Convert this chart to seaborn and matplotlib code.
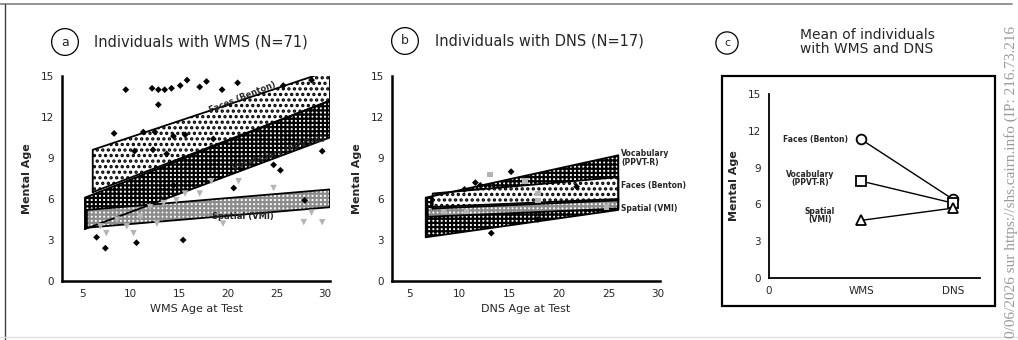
import numpy as np
import pandas as pd
import matplotlib
matplotlib.use('Agg')
import matplotlib.pyplot as plt
import seaborn as sns

sns.set_style('white')
plt.rcParams['font.family'] = ['DejaVu Sans']
plt.rcParams['hatch.linewidth'] = 1.6

MENTAL_AGE = 'Mental Age'

# panel a: individuals with WMS, scatter (black = faces/vocabulary, gray = spatial)
wms_black_age = [9.5, 12.2, 12.85, 13.5, 14.2, 15.1, 15.8, 17.1, 17.8, 19.4, 21.0, 25.7, 28.6,
                 12.85, 8.3, 11.3, 12.5, 14.4, 15.6, 10.4, 12.3, 13.7, 18.5, 24.7, 29.7,
                 20.6, 14.4, 6.5, 7.4, 10.6, 15.4, 27.9, 25.4]
wms_black_ma = [14.0, 14.1, 14.0, 14.0, 14.1, 14.3, 14.7, 14.2, 14.6, 14.0, 14.5, 14.3, 14.7,
                12.9, 10.8, 10.9, 10.9, 10.6, 10.7, 9.5, 9.6, 9.3, 10.4, 8.5, 9.5,
                6.8, 7.0, 3.2, 2.4, 2.8, 3.0, 5.9, 8.1]
wms_gray_age = [18.3, 21.1, 24.7, 15.6, 17.1, 14.7, 19.5, 28.6, 29.7, 27.8, 7.5, 10.3, 12.7,
                8.6, 11.0, 12.0, 13.4, 6.9, 9.6]
wms_gray_ma = [7.3, 7.3, 6.8, 6.4, 6.4, 5.9, 4.2, 5.0, 4.3, 4.3, 3.5, 3.5, 4.2,
               4.5, 4.7, 5.4, 5.7, 4.0, 4.0]

# panel a: confidence bands (x ends, lower, upper)
wms_faces_x, wms_faces_lo, wms_faces_hi = [6.1, 30.5], [6.5, 13.2], [9.6, 15.4]
wms_vocab_x, wms_vocab_lo, wms_vocab_hi = [5.3, 30.5], [3.8, 10.5], [6.1, 13.2]
wms_spat_x, wms_spat_lo, wms_spat_hi = [5.5, 30.5], [3.9, 5.4], [5.2, 6.7]

# panel b: individuals with DNS
dns_black_age = [15.2, 12.1, 11.6, 10.5, 17.9, 21.8, 13.2]
dns_black_ma = [8.0, 7.0, 7.2, 6.7, 4.5, 6.9, 3.5]
dns_gray_age = [13.1, 16.6, 17.9, 17.9, 8.4, 10.7, 24.8]
dns_gray_ma = [7.8, 7.3, 6.4, 5.9, 5.1, 5.1, 5.4]

dns_vocab_x, dns_vocab_lo, dns_vocab_hi = [6.6, 26.0], [3.2, 5.2], [6.1, 9.2]
dns_faces_x, dns_faces_lo, dns_faces_hi = [7.3, 26.0], [5.3, 5.9], [6.4, 7.6]
dns_spat_x, dns_spat_lo, dns_spat_hi = [6.8, 26.0], [4.7, 5.3], [5.4, 6.0]

# panel c: means
groups = ['WMS', 'DNS']
faces_mean = [11.3, 6.4]
vocab_mean = [7.9, 6.1]
spatial_mean = [4.7, 5.7]

W, H = 1018, 340
fig = plt.figure(figsize=(W / 100, H / 100), dpi=100)


def axes_px(x0, y0, x1, y1):
    return fig.add_axes([x0 / W, 1 - y1 / H, (x1 - x0) / W, (y1 - y0) / H])


def band(ax, x, lo, hi, kind):
    if kind == 'faces':
        ax.fill_between(x, lo, hi, facecolor='white', edgecolor='black', hatch='...', lw=0, zorder=2)
    elif kind == 'vocab':
        ax.fill_between(x, lo, hi, facecolor='white', edgecolor='black', hatch='++++', lw=0, zorder=2)
    else:
        ax.fill_between(x, lo, hi, facecolor='white', edgecolor='#8c8c8c', hatch='++++', lw=0, zorder=2)
    ax.plot([x[0], x[0], x[1], x[1], x[0]], [lo[0], hi[0], hi[1], lo[1], lo[0]],
            color='black', lw=1.3, zorder=3)


def style_axes(ax, xlabel):
    sns.despine(ax=ax)
    for s in ['left', 'bottom']:
        ax.spines[s].set_linewidth(1.8)
        ax.spines[s].set_color('black')
    ax.set_ylim(0, 15)
    ax.set_yticks([0, 3, 6, 9, 12, 15])
    ax.tick_params(axis='both', labelsize=7.5, length=0, pad=6)
    ax.set_ylabel(MENTAL_AGE, fontsize=8, fontweight='bold', labelpad=6)
    ax.set_xlabel(xlabel, fontsize=8, labelpad=3)


# ---- panel a
ax1 = axes_px(62, 76, 330, 281)
band(ax1, wms_vocab_x, wms_vocab_lo, wms_vocab_hi, 'vocab')
band(ax1, wms_faces_x, wms_faces_lo, wms_faces_hi, 'faces')
band(ax1, wms_spat_x, wms_spat_lo, wms_spat_hi, 'spatial')
sns.scatterplot(x=wms_gray_age, y=wms_gray_ma, color='#b4b4b4', marker='v', s=22,
                edgecolor='none', ax=ax1, zorder=4)
sns.scatterplot(x=wms_black_age, y=wms_black_ma, color='black', marker='D', s=12,
                edgecolor='none', ax=ax1, zorder=4)
ax1.set_xlim(2.94, 30.5)
ax1.set_xticks([5, 10, 15, 20, 25, 30])
style_axes(ax1, 'WMS Age at Test')
ax1.text(21.5, 13.4, 'Faces (Benton)', fontsize=6, fontweight='bold', rotation=22,
         ha='center', va='center', zorder=5)
ax1.text(25.2, 9.4, 'Vocabulary (PPVT-R)', fontsize=6, fontweight='bold', rotation=18,
         ha='center', va='center', zorder=5)
ax1.text(21.5, 4.7, 'Spatial (VMI)', fontsize=6, fontweight='bold',
         ha='center', va='center', zorder=5)

# ---- panel b
ax2 = axes_px(392, 76, 660, 281)
band(ax2, dns_vocab_x, dns_vocab_lo, dns_vocab_hi, 'vocab')
band(ax2, dns_faces_x, dns_faces_lo, dns_faces_hi, 'faces')
band(ax2, dns_spat_x, dns_spat_lo, dns_spat_hi, 'spatial')
sns.scatterplot(x=dns_gray_age, y=dns_gray_ma, color='#b4b4b4', marker='s', s=16,
                edgecolor='none', ax=ax2, zorder=4)
sns.scatterplot(x=dns_black_age, y=dns_black_ma, color='black', marker='D', s=12,
                edgecolor='none', ax=ax2, zorder=4)
ax2.set_xlim(3.2, 30.2)
ax2.set_xticks([5, 10, 15, 20, 25, 30])
style_axes(ax2, 'DNS Age at Test')
ax2.text(26.3, 9.0, 'Vocabulary\n(PPVT-R)', fontsize=5.5, fontweight='bold', ha='left',
         va='center', linespacing=0.9, clip_on=False)
ax2.text(26.3, 7.0, 'Faces (Benton)', fontsize=5.5, fontweight='bold', ha='left',
         va='center', clip_on=False)
ax2.text(26.3, 5.3, 'Spatial (VMI)', fontsize=5.5, fontweight='bold', ha='left',
         va='center', clip_on=False)

# ---- panel c
frame = plt.Rectangle((722 / W, 1 - 306 / H), (995 - 722) / W, (306 - 76) / H,
                      transform=fig.transFigure, fill=False, ec='black', lw=1.6)
fig.patches.append(frame)
ax3 = axes_px(769, 94, 980, 278)
means = pd.DataFrame({
    'group': [1, 2] * 3,
    'value': faces_mean + vocab_mean + spatial_mean,
    'task': ['Faces'] * 2 + ['Vocabulary'] * 2 + ['Spatial'] * 2,
})
sns.lineplot(data=means, x='group', y='value', hue='task', style='task',
             markers={'Faces': 'o', 'Vocabulary': 's', 'Spatial': '^'}, dashes=False,
             palette={'Faces': 'black', 'Vocabulary': 'black', 'Spatial': 'black'},
             markersize=7, markerfacecolor='white', markeredgecolor='black',
             markeredgewidth=1.3, lw=1.0, legend=False, ax=ax3)
ax3.set_xlim(0, 2.29)
ax3.set_xticks([0, 1, 2])
ax3.set_xticklabels(['0'] + groups)
style_axes(ax3, '')
ax3.spines['left'].set_linewidth(1.3)
ax3.spines['bottom'].set_linewidth(1.3)
ax3.text(0.86, faces_mean[0], 'Faces (Benton)', fontsize=5.5, fontweight='bold',
         ha='right', va='center')
ax3.text(0.45, vocab_mean[0] + 0.2, 'Vocabulary\n(PPVT-R)', fontsize=5.5, fontweight='bold',
         ha='center', va='center', linespacing=0.9)
ax3.text(0.55, spatial_mean[0] + 0.4, 'Spatial\n(VMI)', fontsize=5.5, fontweight='bold',
         ha='center', va='center', linespacing=0.9)

# ---- titles
circ = dict(boxstyle='circle,pad=0.55', fc='white', ec='black', lw=0.9)
fig.text(65 / W, 1 - 42 / H, 'a', fontsize=9, ha='center', va='center', bbox=circ)
fig.text(405 / W, 1 - 41 / H, 'b', fontsize=9, ha='center', va='center', bbox=circ)
fig.text(727 / W, 1 - 43 / H, 'c', fontsize=8, ha='center', va='center', bbox=circ)
fig.text(94 / W, 1 - 42 / H, 'Individuals with WMS (N=71)', fontsize=10.5, ha='left', va='center')
fig.text(435 / W, 1 - 41 / H, 'Individuals with DNS (N=17)', fontsize=10.5, ha='left', va='center')
fig.text(867 / W, 1 - 42 / H, 'Mean of individuals\nwith WMS and DNS', fontsize=10,
         ha='center', va='center', linespacing=1.0)

# ---- page border and watermark
fig.add_artist(plt.Line2D([0, 1012 / W], [1 - 4 / H] * 2, color='#808080', lw=1.2))
fig.add_artist(plt.Line2D([5 / W] * 2, [0, 1 - 4 / H], color='#404040', lw=1.0))
fig.add_artist(plt.Line2D([0, 1], [1 - 337 / H] * 2, color='#e0e0e0', lw=1.0))
fig.text(1011 / W, 1 - 338 / H, '0/06/2026 sur https://shs.cairn.info (IP: 216.73.216',
         rotation=90, fontsize=11, family='Liberation Serif', color='#9a9a9a',
         ha='center', va='bottom')

fig.savefig('out.png', dpi=100)
